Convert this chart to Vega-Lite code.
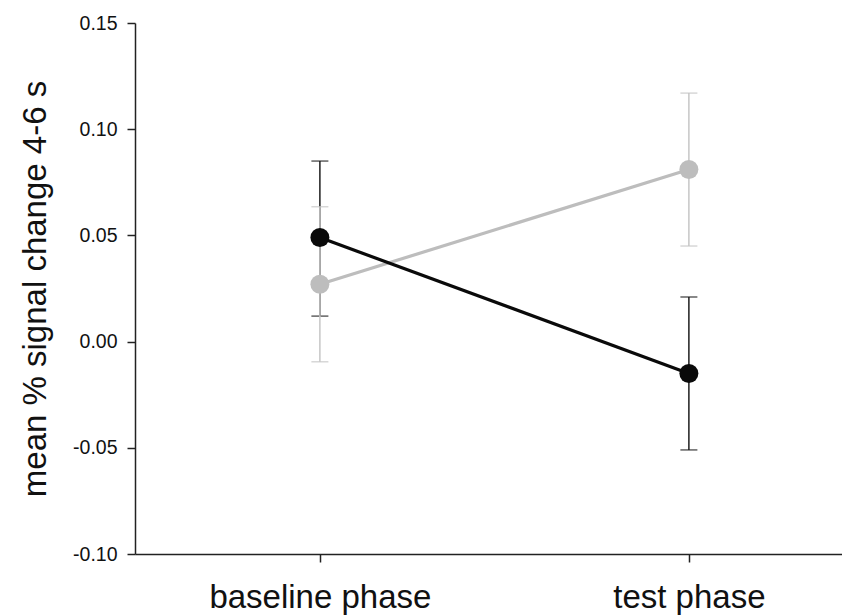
{
  "$schema": "https://vega.github.io/schema/vega-lite/v6.json",
  "width": 707,
  "height": 531,
  "autosize": {"type": "none"},
  "padding": {"left": 135, "top": 23, "right": 0, "bottom": 62},
  "background": "white",
  "config": {
    "view": {"stroke": null},
    "font": "Liberation Sans",
    "axis": {"grid": false, "domainColor": "#222222", "tickColor": "#222222", "domainWidth": 1.5, "tickWidth": 1.5, "tickSize": 8, "labelColor": "#111111", "titleColor": "#111111"}
  },
  "data": {
    "values": [
      {"phase": "baseline phase", "group": "condition 1", "mean": 0.049, "lo": 0.012, "hi": 0.085},
      {"phase": "test phase", "group": "condition 1", "mean": -0.015, "lo": -0.051, "hi": 0.021},
      {"phase": "baseline phase", "group": "condition 2", "mean": 0.027, "lo": -0.0095, "hi": 0.0635},
      {"phase": "test phase", "group": "condition 2", "mean": 0.081, "lo": 0.045, "hi": 0.117}
    ]
  },
  "encoding": {
    "x": {
      "field": "phase", "type": "ordinal",
      "scale": {"type": "point", "domain": ["baseline phase", "test phase"], "padding": 0.458, "align": 0.547},
      "axis": {"title": null, "labelAngle": 0, "labelFontSize": 33, "labelBaseline": "alphabetic", "labelPadding": 45, "labelLimit": 0, "labelOverlap": false, "labelBound": false}
    }
  },
  "layer": [
    {
      "transform": [{"filter": "datum.group === 'condition 1'"}],
      "mark": {"type": "rule", "color": "#1e1e1e", "strokeWidth": 1.5},
      "encoding": {
        "y": {"field": "lo", "type": "quantitative",
          "scale": {"domain": [-0.1, 0.15], "nice": false, "zero": false},
          "axis": {"values": [-0.1, -0.05, 0, 0.05, 0.1, 0.15], "labelExpr": "replace(format(datum.value, '.2f'), '\u2212', '-')", "labelFontSize": 19.5, "labelPadding": 10, "title": "mean % signal change 4-6 s", "titleFontSize": 33, "titleFontWeight": "normal", "titleX": -90, "titleBaseline": "alphabetic"}},
        "y2": {"field": "hi"}
      }
    },
    {
      "transform": [{"filter": "datum.group === 'condition 1'"}],
      "mark": {"type": "tick", "color": "#1e1e1e", "thickness": 1.5, "size": 17},
      "encoding": {"y": {"field": "lo", "type": "quantitative"}}
    },
    {
      "transform": [{"filter": "datum.group === 'condition 1'"}],
      "mark": {"type": "tick", "color": "#1e1e1e", "thickness": 1.5, "size": 17},
      "encoding": {"y": {"field": "hi", "type": "quantitative"}}
    },
    {
      "transform": [{"filter": "datum.group === 'condition 2'"}],
      "mark": {"type": "rule", "color": "#c6c6c6", "strokeWidth": 1.5},
      "encoding": {"y": {"field": "lo", "type": "quantitative"}, "y2": {"field": "hi"}}
    },
    {
      "transform": [{"filter": "datum.group === 'condition 2'"}],
      "mark": {"type": "tick", "color": "#c6c6c6", "thickness": 1.5, "size": 17},
      "encoding": {"y": {"field": "lo", "type": "quantitative"}}
    },
    {
      "transform": [{"filter": "datum.group === 'condition 2'"}],
      "mark": {"type": "tick", "color": "#c6c6c6", "thickness": 1.5, "size": 17},
      "encoding": {"y": {"field": "hi", "type": "quantitative"}}
    },
    {
      "transform": [{"filter": "datum.group === 'condition 2'"}],
      "mark": {"type": "line", "color": "#bdbdbd", "strokeWidth": 3.2},
      "encoding": {"y": {"field": "mean", "type": "quantitative"}}
    },
    {
      "transform": [{"filter": "datum.group === 'condition 1'"}],
      "mark": {"type": "line", "color": "#0a0a0a", "strokeWidth": 3.2},
      "encoding": {"y": {"field": "mean", "type": "quantitative"}}
    },
    {
      "transform": [{"filter": "datum.group === 'condition 2'"}],
      "mark": {"type": "point", "shape": "circle", "filled": true, "opacity": 1, "color": "#bdbdbd", "size": 360},
      "encoding": {"y": {"field": "mean", "type": "quantitative"}}
    },
    {
      "transform": [{"filter": "datum.group === 'condition 1'"}],
      "mark": {"type": "point", "shape": "circle", "filled": true, "opacity": 1, "color": "#0a0a0a", "size": 360},
      "encoding": {"y": {"field": "mean", "type": "quantitative"}}
    }
  ]
}
